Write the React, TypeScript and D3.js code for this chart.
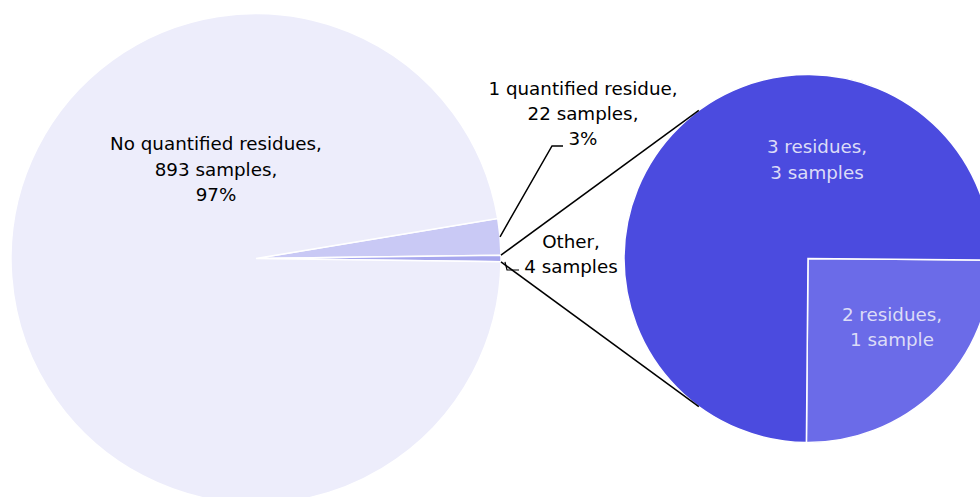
import React from "react";
import * as d3 from "d3";

const mainCategories = ["1 quantified residue", "Other", "No quantified residues"];
const mainValues = [22, 4, 893];
const mainColors = ["#c9c9f5", "#a7a7ee", "#ededfb"];

const subCategories = ["2 residues", "3 residues"];
const subValues = [1, 3];
const subColors = ["#6b6be8", "#4b4bdf"];

const W = 980;
const H = 497;
const FONT = "'DejaVu Sans', Verdana, sans-serif";
const FS = 18.3;

export default function App() {
  const total = d3.sum(mainValues);
  const otherAngle = (2 * Math.PI * mainValues[1]) / total;
  const firstAngle = (2 * Math.PI * mainValues[0]) / total;
  const start = Math.PI / 2 - otherAngle / 2 - firstAngle;

  const cx1 = 256, cy1 = 258.5, r1 = 245;
  const cx2 = 808, cy2 = 258.5, r2 = 184;

  const pie1 = d3.pie<number>().sort(null).value((d) => d).startAngle(start).endAngle(start + 2 * Math.PI);
  const arcs1 = pie1(mainValues);
  const arc1 = d3.arc<d3.PieArcDatum<number>>().innerRadius(0).outerRadius(r1);

  const rot = (0.5 * Math.PI) / 180;
  const pie2 = d3.pie<number>().sort(null).value((d) => d).startAngle(Math.PI / 2 + rot).endAngle(Math.PI / 2 + rot + 2 * Math.PI);
  const arcs2 = pie2(subValues);
  const arc2 = d3.arc<d3.PieArcDatum<number>>().innerRadius(0).outerRadius(r2);

  const pt = (cx: number, cy: number, r: number, a: number) => [cx + r * Math.sin(a), cy - r * Math.cos(a)];

  const other = arcs1[1];
  const connAngle = (36.4 * Math.PI) / 180;
  const c1a = pt(cx1, cy1, r1, other.startAngle);
  const c1b = pt(cx2, cy2, r2, -connAngle);
  const c2a = pt(cx1, cy1, r1, other.endAngle);
  const c2b = pt(cx2, cy2, r2, Math.PI + connAngle);

  const a22 = arcs1[0];
  const mid22 = (a22.startAngle + a22.endAngle) / 2;
  const l22 = pt(cx1, cy1, r1, mid22);

  const lO = pt(cx1, cy1, r1 + 4, other.endAngle);

  const textStyle = { fontFamily: FONT, fontSize: FS } as React.CSSProperties;

  return (
    <svg width={W} height={H} style={{ position: "absolute", left: 0, top: 0, background: "#fff" }}>
      <g transform={`translate(${cx1},${cy1})`}>
        {arcs1.map((a, i) => (
          <path key={mainCategories[i]} d={arc1(a) || ""} fill={mainColors[i]} stroke="#fff" strokeWidth={1.5} />
        ))}
      </g>
      <g transform={`translate(${cx2},${cy2})`}>
        {arcs2.map((a, i) => (
          <path key={subCategories[i]} d={arc2(a) || ""} fill={subColors[i]} stroke="#fff" strokeWidth={1.5} />
        ))}
      </g>
      <line x1={c1a[0]} y1={c1a[1]} x2={c1b[0]} y2={c1b[1]} stroke="#000" strokeWidth={1.5} />
      <line x1={c2a[0]} y1={c2a[1]} x2={c2b[0]} y2={c2b[1]} stroke="#000" strokeWidth={1.5} />
      <polyline points={`${l22[0]},${l22[1]} 552,146 563,146`} fill="none" stroke="#000" strokeWidth={1.5} />
      <polyline points={`${lO[0]},${lO[1]} 507,270 519,270`} fill="none" stroke="#000" strokeWidth={1.2} />

      <g style={textStyle} fill="#000" textAnchor="middle">
        <text x={216} y={150}>No quantified residues,</text>
        <text x={216} y={176}>893 samples,</text>
        <text x={216} y={201}>97%</text>
        <text x={583} y={95}>1 quantified residue,</text>
        <text x={583} y={120}>22 samples,</text>
        <text x={583} y={145}>3%</text>
        <text x={571} y={248}>Other,</text>
        <text x={571} y={273}>4 samples</text>
      </g>
      <g style={textStyle} fill="#dcdcf7" textAnchor="middle">
        <text x={817} y={153}>3 residues,</text>
        <text x={817} y={179}>3 samples</text>
        <text x={892} y={321}>2 residues,</text>
        <text x={892} y={346}>1 sample</text>
      </g>
    </svg>
  );
}
